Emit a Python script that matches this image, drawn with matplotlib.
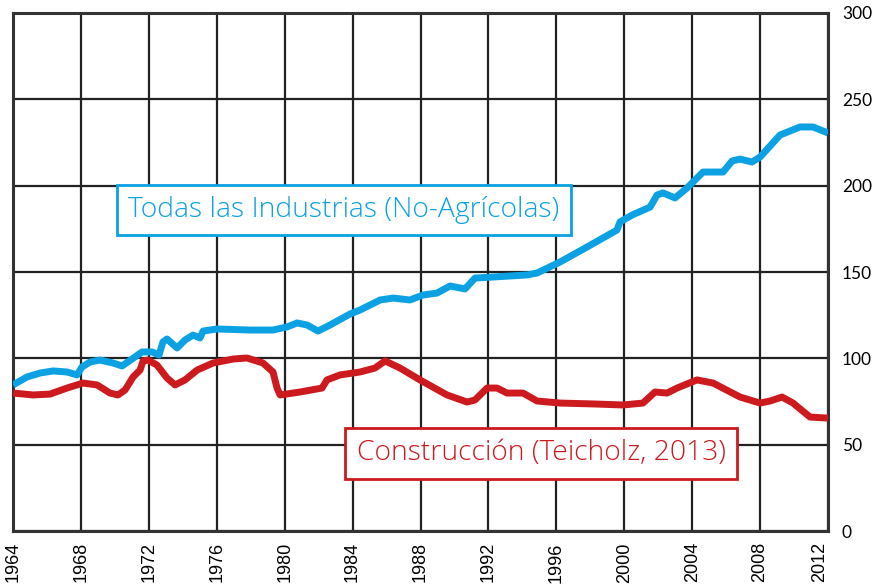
import matplotlib.pyplot as plt

# values (index, right axis)
years_all = [1964.00, 1964.82, 1965.59, 1966.36, 1967.18, 1967.77, 1968.06, 1968.54, 1969.12, 1969.89,
             1970.42, 1971.01, 1971.60, 1972.19, 1972.60, 1972.83, 1973.07, 1973.66, 1974.13, 1974.60,
             1975.01, 1975.19, 1976.01, 1977.96, 1979.31, 1980.14, 1980.73, 1981.32, 1981.96, 1982.67,
             1983.85, 1984.44, 1985.62, 1986.38, 1987.38, 1988.15, 1988.97, 1989.74, 1990.62, 1991.21,
             1992.27, 1994.27, 1994.86, 1996.22, 1997.81, 1999.57, 1999.75, 2000.46, 2001.52, 2001.93,
             2002.28, 2002.99, 2003.70, 2004.64, 2005.82, 2006.35, 2006.82, 2007.52, 2008.00, 2009.17,
             2010.35, 2011.12, 2012.00]
all_industries = [84.6, 89.2, 91.5, 92.7, 92.1, 90.4, 95.0, 97.9, 99.0, 97.3,
                  95.6, 99.6, 103.7, 103.7, 101.9, 109.5, 111.2, 106.0, 110.6, 113.5,
                  111.8, 115.8, 117.0, 116.4, 116.4, 118.2, 120.5, 119.3, 115.8, 119.3,
                  125.7, 128.0, 133.8, 134.9, 133.8, 136.7, 137.8, 141.9, 140.2, 146.5,
                  147.1, 148.3, 149.4, 155.8, 164.5, 174.3, 179.0, 183.0, 187.6, 194.6,
                  195.8, 192.9, 198.7, 207.9, 207.9, 214.3, 215.4, 213.7, 216.6, 229.3,
                  234.0, 234.0, 230.5]

years_con = [1964.00, 1965.18, 1966.18, 1967.18, 1968.12, 1968.95, 1969.71, 1970.18, 1970.60, 1971.07,
             1971.48, 1971.66, 1971.95, 1972.48, 1973.07, 1973.54, 1974.13, 1974.84, 1975.78, 1976.96,
             1977.78, 1978.72, 1979.31, 1979.55, 1979.73, 1980.90, 1982.20, 1982.49, 1983.26, 1984.44,
             1985.32, 1985.91, 1986.79, 1987.97, 1989.56, 1990.74, 1991.21, 1991.92, 1992.51, 1993.09,
             1994.04, 1994.86, 1996.22, 1998.16, 1999.93, 2001.10, 2001.81, 2002.52, 2003.11, 2004.28,
             2005.23, 2006.82, 2008.00, 2008.59, 2009.29, 2009.94, 2010.94, 2012.00]
construction = [79.9, 78.8, 79.3, 82.8, 85.7, 84.6, 79.9, 78.8, 81.7, 89.2,
                93.2, 98.5, 99.0, 96.1, 88.6, 84.6, 87.5, 93.2, 97.3, 99.6,
                100.2, 97.3, 92.1, 82.8, 78.8, 80.5, 82.8, 87.5, 90.4, 92.1,
                94.4, 98.5, 94.4, 87.5, 78.8, 74.7, 75.9, 82.8, 82.8, 79.9,
                79.9, 75.3, 74.1, 73.6, 73.0, 74.1, 80.5, 79.9, 82.8, 87.5,
                85.7, 77.6, 74.1, 75.3, 77.6, 74.1, 66.0, 65.4]

xticks = list(range(1964, 2013, 4))
yticks = [0, 50, 100, 150, 200, 250, 300]

blue = '#0ba1e2'
red = '#cc1a1f'

fig = plt.figure(figsize=(8.75, 5.88), dpi=100)
ax = fig.add_axes([0.0149, 0.0969, 0.9314, 0.881])

ax.plot(years_all, all_industries, color=blue, lw=5, solid_joinstyle='round',
        solid_capstyle='butt', zorder=3)
ax.plot(years_con, construction, color=red, lw=5, solid_joinstyle='round',
        solid_capstyle='butt', zorder=3)

ax.set_xlim(1964, 2012)
ax.set_ylim(0, 300)
ax.set_xticks(xticks)
ax.set_yticks(yticks)
ax.grid(True, color='#222222', lw=1.6, zorder=1)
ax.set_axisbelow(True)

ax.yaxis.tick_right()
ax.tick_params(axis='y', length=0, pad=10, labelsize=12.5)
ax.tick_params(axis='x', length=0, pad=8, labelsize=13, rotation=90)
for lab in ax.get_yticklabels():
    lab.set_family('Lato')
for lab in ax.get_xticklabels():
    lab.set_family('Liberation Sans')
# last year label sits just inside the frame, as in the reference
ax.get_xticklabels()[-1].set_horizontalalignment('right')

for s in ax.spines.values():
    s.set_linewidth(2.2)
    s.set_color('#333333')

ax.text(1983.5, 186, 'Todas las Industrias (No-Agrícolas)', color=blue, fontsize=20.3,
        family='Open Sans', fontweight='light', ha='center', va='center', zorder=5,
        bbox=dict(boxstyle='square,pad=0.4', fc='white', ec=blue, lw=2))
ax.text(1995.1, 45, 'Construcción (Teicholz, 2013)', color=red, fontsize=20.3,
        family='Open Sans', fontweight='light', ha='center', va='center', zorder=5,
        bbox=dict(boxstyle='square,pad=0.4', fc='white', ec=red, lw=2))

fig.savefig('out.png', dpi=100)
